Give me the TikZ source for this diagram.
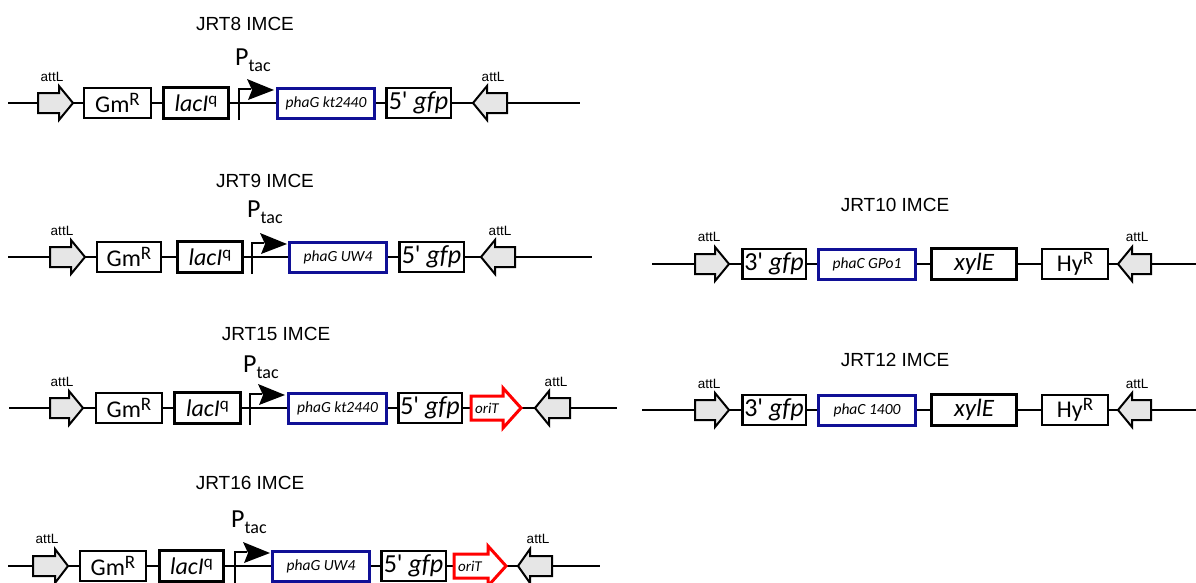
\documentclass[tikz,border=0pt]{standalone}
\usepackage{fontspec}
\setmainfont{Carlito}
\newfontfamily\arialf{Liberation Sans}
\definecolor{pblue}{RGB}{16,16,150}
\definecolor{agray}{RGB}{230,230,230}
\tikzset{
  backbone/.style={line width=2pt},
  gbox/.style={draw=black, line width=2pt, fill=white, minimum height=30pt, inner sep=0pt, font=\fontsize{24}{24}\selectfont},
  tbox/.style={gbox, line width=3pt, minimum height=31pt},
  bbox/.style={gbox, draw=pblue, line width=3pt, font=\fontsize{15.5}{15.5}\selectfont\itshape},
  gfpbox/.style={gbox, line width=2.5pt, font=\fontsize{26}{26}\selectfont},
  xylbox/.style={tbox, font=\fontsize{25}{25}\selectfont\itshape},
  titletext/.style={font=\arialf\fontsize{19}{19}\selectfont},
  attltext/.style={font=\arialf\fontsize{13.5}{13.5}\selectfont},
  ptactext/.style={font=\fontsize{26}{26}\selectfont, inner sep=0pt, anchor=base west},
  attarrow/.style={draw=black, line width=2pt, fill=agray, line join=miter},
  oriarrow/.style={draw=red, line width=3pt, fill=white, line join=miter},
  promline/.style={line width=1.6pt},
  orilabel/.style={font=\fontsize{15}{15}\selectfont\itshape, inner sep=0pt}
}
% right-pointing attL: x0, head base, tip, line y
\newcommand\myattR[4]{\draw[attarrow] (#1,#4-10) -- (#2,#4-10) -- (#2,#4-17) -- (#3,#4) -- (#2,#4+17) -- (#2,#4+10) -- (#1,#4+10) -- cycle;}
% left-pointing attL: tip, head base, end, line y
\newcommand\myattL[4]{\draw[attarrow] (#3,#4-10) -- (#2,#4-10) -- (#2,#4-17) -- (#1,#4) -- (#2,#4+17) -- (#2,#4+10) -- (#3,#4+10) -- cycle;}
% oriT arrow: x0, head base, tip, line y
\newcommand\myori[4]{\draw[oriarrow] (#1,#4-12) -- (#2,#4-12) -- (#2,#4-20) -- (#3,#4) -- (#2,#4+20) -- (#2,#4+12) -- (#1,#4+12) -- cycle;}
% promoter: vertical x, line y
\newcommand\myprom[2]{\draw[promline] (#1,#2+17) -- (#1,#2-14) -- (#1+12,#2-14);
  \fill (#1+8,#2-24) -- (#1+35,#2-13) -- (#1+9,#2-3) -- (#1+13,#2-13) -- cycle;}
\newcommand\ptac{P{\fontsize{18}{18}\selectfont\raisebox{-6pt}{tac}}}
\newcommand\supR{\raisebox{7pt}{\fontsize{19}{19}\selectfont R}}
\newcommand\supq{\raisebox{7pt}{\fontsize{17}{17}\selectfont q}}
\newcommand\apo{\textquotesingle}
\begin{document}
\begin{tikzpicture}[x=1pt,y=-1pt]
\useasboundingbox[fill=white] (0,0) rectangle (1196,582);

% ---------------- Row 1: JRT8 ----------------
\node[titletext] (t1) at (245,24) {JRT8 IMCE};
\coordinate (a1s) at (8,103); \coordinate (a1e) at (580,103);
\draw[backbone] (a1s) -- (a1e);
\myattR{38}{59}{73}{103}
\myattL{473}{487}{507}{103}
\node[attltext] (a1l1) at (52,77) {attL};
\node[attltext] (a1l2) at (493,77) {attL};
\node[gbox, minimum width=67pt] (a1gm) at (117.5,103) {Gm\supR};
\node[tbox, minimum width=65pt] (a1lac) at (196,103) {\textit{lacI}\supq};
\myprom{239}{103}
\node[ptactext] (a1p) at (235,65) {\ptac};
\node[bbox, minimum width=97pt] (a1pha) at (326,103) {phaG kt2440};
\node[gfpbox, minimum width=64.5pt] (a1gfp) at (418.5,103) {5\apo{} \textit{gfp}};

% ---------------- Row 2: JRT9 ----------------
\node[titletext] (t2) at (265,181) {JRT9 IMCE};
\coordinate (a2s) at (8,257); \coordinate (a2e) at (592,257);
\draw[backbone] (a2s) -- (a2e);
\myattR{50}{71}{85}{257}
\myattL{481}{495}{515}{257}
\node[attltext] (a2l1) at (62,231) {attL};
\node[attltext] (a2l2) at (500,231) {attL};
\node[gbox, minimum width=64pt] (a2gm) at (129,257) {Gm\supR};
\node[tbox, minimum width=65pt] (a2lac) at (210,257) {\textit{lacI}\supq};
\myprom{252}{257}
\node[ptactext] (a2p) at (247,217) {\ptac};
\node[bbox, minimum width=97pt] (a2pha) at (338,257) {phaG UW4};
\node[gfpbox, minimum width=64.5pt] (a2gfp) at (431.5,257) {5\apo{} \textit{gfp}};

% ---------------- Row 3: JRT15 ----------------
\node[titletext] (t3) at (276,334) {JRT15 IMCE};
\coordinate (a3s) at (9,408); \coordinate (a3e) at (617,408);
\draw[backbone] (a3s) -- (a3e);
\myattR{50}{69}{83}{408}
\myattL{535}{549}{570}{408}
\node[attltext] (a3l1) at (62,382) {attL};
\node[attltext] (a3l2) at (556,382) {attL};
\node[gbox, minimum width=66pt] (a3gm) at (129,408) {Gm\supR};
\node[tbox, minimum width=66pt] (a3lac) at (207.5,408) {\textit{lacI}\supq};
\myprom{250}{408}
\node[ptactext] (a3p) at (243,372) {\ptac};
\node[bbox, minimum width=98pt] (a3pha) at (337.5,408) {phaG kt2440};
\node[gfpbox, minimum width=63.5pt] (a3gfp) at (430,408) {5\apo{} \textit{gfp}};
\myori{471}{503}{521}{408}
\node[orilabel] (a3ori) at (487,408) {oriT};

% ---------------- Row 4: JRT16 ----------------
\node[titletext] (t4) at (250,483) {JRT16 IMCE};
\coordinate (a4s) at (8,566); \coordinate (a4e) at (600,566);
\draw[backbone] (a4s) -- (a4e);
\myattR{33}{55}{68}{566}
\myattL{518}{530}{552}{566}
\node[attltext] (a4l1) at (47,539) {attL};
\node[attltext] (a4l2) at (538,539) {attL};
\node[gbox, minimum width=66pt] (a4gm) at (113,566) {Gm\supR};
\node[tbox, minimum width=64pt] (a4lac) at (191.5,566) {\textit{lacI}\supq};
\myprom{235}{566}
\node[ptactext] (a4p) at (231,527) {\ptac};
\node[bbox, minimum width=97pt] (a4pha) at (321,566) {phaG UW4};
\node[gfpbox, minimum width=64.5pt] (a4gfp) at (413.5,566) {5\apo{} \textit{gfp}};
\myori{454}{488}{506}{566}
\node[orilabel] (a4ori) at (470,566) {oriT};

% ---------------- Right 1: JRT10 ----------------
\node[titletext] (t5) at (895,205) {JRT10 IMCE};
\coordinate (b1s) at (652,264); \coordinate (b1e) at (1196,264);
\draw[backbone] (b1s) -- (b1e);
\myattR{695}{715}{729}{264}
\myattL{1118}{1132}{1151}{264}
\node[attltext] (b1l1) at (709,237) {attL};
\node[attltext] (b1l2) at (1137,237) {attL};
\node[gfpbox, minimum width=63.5pt] (b1gfp) at (774,264) {3\apo{} \textit{gfp}};
\node[bbox, minimum width=97pt] (b1pha) at (867,264) {phaC GPo1};
\node[xylbox, minimum width=85pt] (b1xyl) at (974,264) {xylE};
\node[gbox, minimum width=66pt] (b1hy) at (1075,264) {Hy\supR};

% ---------------- Right 2: JRT12 ----------------
\node[titletext] (t6) at (895,360) {JRT12 IMCE};
\coordinate (b2s) at (642,410); \coordinate (b2e) at (1196,410);
\draw[backbone] (b2s) -- (b2e);
\myattR{695}{715}{729}{410}
\myattL{1118}{1132}{1151}{410}
\node[attltext] (b2l1) at (709,384) {attL};
\node[attltext] (b2l2) at (1137,384) {attL};
\node[gfpbox, minimum width=63.5pt] (b2gfp) at (774,410) {3\apo{} \textit{gfp}};
\node[bbox, minimum width=97pt] (b2pha) at (867,410) {phaC 1400};
\node[xylbox, minimum width=85pt] (b2xyl) at (974,410) {xylE};
\node[gbox, minimum width=66pt] (b2hy) at (1075,410) {Hy\supR};
\end{tikzpicture}
\end{document}
